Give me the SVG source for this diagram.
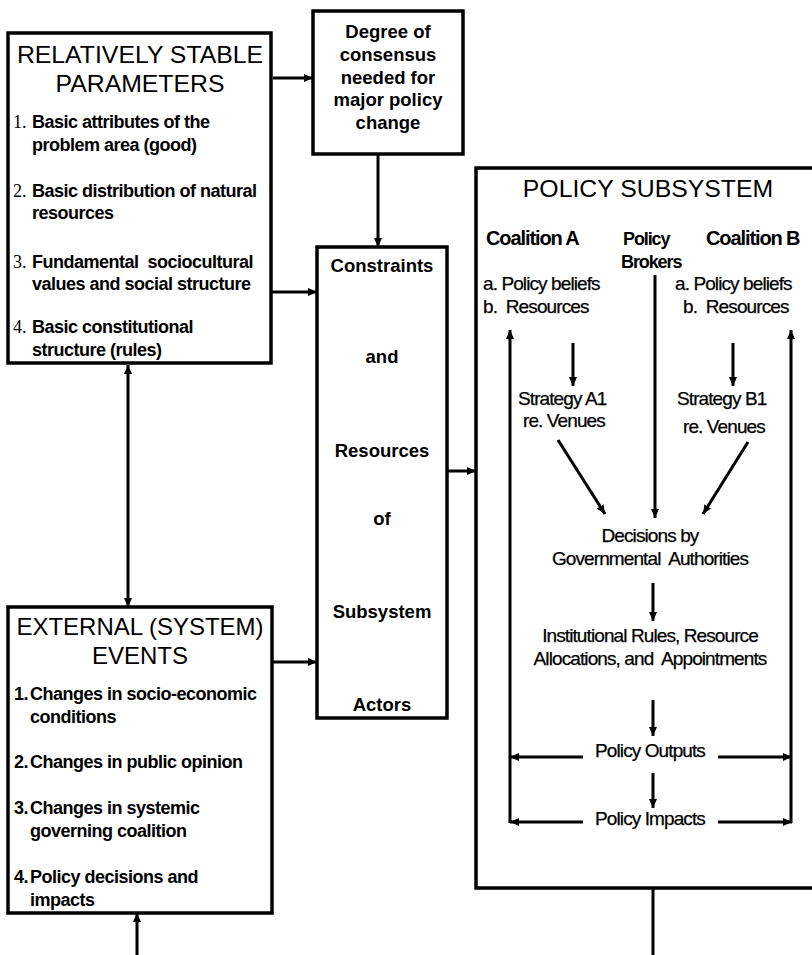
<svg xmlns="http://www.w3.org/2000/svg" width="812" height="955" viewBox="0 0 812 955" xml:space="preserve">
<defs>
<marker id="ah" markerUnits="userSpaceOnUse" markerWidth="9" markerHeight="8" refX="9" refY="4" orient="auto-start-reverse"><path d="M0,0 L9,4 L0,8 z" fill="#000"/></marker>
<style>
.box{fill:#fff;stroke:#000;stroke-width:3.5}
.t{font-family:"Liberation Sans",Arial,sans-serif;fill:#000;white-space:pre}
.title{font-size:24.8px}
.item{font-size:18px;font-weight:bold;letter-spacing:-0.5px}
.num{font-family:"Liberation Serif","Times New Roman",serif;font-size:18px;fill:#000}
.cb{font-size:18.5px;font-weight:bold;text-anchor:middle}
.sub{font-size:19px;letter-spacing:-0.9px;stroke:#000;stroke-width:0.25}
.subb{font-size:20px;font-weight:bold;letter-spacing:-1.1px}
.mid{text-anchor:middle}
.c line{stroke:#000;stroke-width:3}
.a{marker-end:url(#ah)}
</style>
</defs>
<rect width="812" height="955" fill="#fff"/>

<g id="stable-parameters">
<rect class="box" x="8" y="33" width="263" height="330"/>
<text class="t title mid" x="140" y="63">RELATIVELY STABLE</text>
<text class="t title mid" x="140" y="92">PARAMETERS</text>
<text class="num" x="13" y="128">1.</text>
<text class="t item" x="32" y="128">Basic attributes of the</text>
<text class="t item" x="32" y="151">problem area (good)</text>
<text class="num" x="13" y="197">2.</text>
<text class="t item" x="32" y="197">Basic distribution of natural</text>
<text class="t item" x="32" y="219">resources</text>
<text class="num" x="13" y="268">3.</text>
<text class="t item" x="32" y="268">Fundamental  sociocultural</text>
<text class="t item" x="32" y="290">values and social structure</text>
<text class="num" x="13" y="333">4.</text>
<text class="t item" x="32" y="333">Basic constitutional</text>
<text class="t item" x="32" y="356">structure (rules)</text>
</g>

<g id="degree-consensus">
<rect class="box" x="313" y="11" width="150" height="143"/>
<text class="t cb" x="388" y="38">Degree of</text>
<text class="t cb" x="388" y="61">consensus</text>
<text class="t cb" x="388" y="84">needed for</text>
<text class="t cb" x="388" y="106">major policy</text>
<text class="t cb" x="388" y="129">change</text>
</g>

<g id="constraints-resources">
<rect class="box" x="317" y="247" width="130" height="471"/>
<text class="t cb" x="382" y="272">Constraints</text>
<text class="t cb" x="382" y="363">and</text>
<text class="t cb" x="382" y="457">Resources</text>
<text class="t cb" x="382" y="525">of</text>
<text class="t cb" x="382" y="618">Subsystem</text>
<text class="t cb" x="382" y="711">Actors</text>
</g>

<g id="external-events">
<rect class="box" x="8" y="607" width="264" height="306"/>
<text class="t title mid" x="140" y="635" style="font-size:24px">EXTERNAL (SYSTEM)</text>
<text class="t title mid" x="140" y="664" style="font-size:24px">EVENTS</text>
<text class="t item" x="14" y="700">1.</text>
<text class="t item" x="30" y="700">Changes in socio-economic</text>
<text class="t item" x="30" y="723">conditions</text>
<text class="t item" x="14" y="768">2.</text>
<text class="t item" x="30" y="768">Changes in public opinion</text>
<text class="t item" x="14" y="814">3.</text>
<text class="t item" x="30" y="814">Changes in systemic</text>
<text class="t item" x="30" y="837">governing coalition</text>
<text class="t item" x="14" y="883">4.</text>
<text class="t item" x="30" y="883">Policy decisions and</text>
<text class="t item" x="30" y="906">impacts</text>
</g>

<g id="policy-subsystem">
<rect class="box" x="476" y="168" width="360" height="720"/>
<text class="t title mid" x="648" y="197">POLICY SUBSYSTEM</text>
<g id="coalition-a">
<text class="t subb" x="486" y="245">Coalition A</text>
<text class="t sub" x="483" y="290">a. Policy beliefs</text>
<text class="t sub" x="483" y="313">b.  Resources</text>
</g>
<g id="policy-brokers">
<text class="t subb" x="623" y="245" style="font-size:18px">Policy</text>
<text class="t subb" x="621" y="268" style="font-size:18px">Brokers</text>
</g>
<g id="coalition-b">
<text class="t subb" x="706" y="245">Coalition B</text>
<text class="t sub" x="675" y="290">a. Policy beliefs</text>
<text class="t sub" x="683" y="313">b.  Resources</text>
</g>
<g id="strategy-a1">
<text class="t sub" x="518" y="405">Strategy A1</text>
<text class="t sub" x="523" y="427">re. Venues</text>
</g>
<g id="strategy-b1">
<text class="t sub" x="677" y="405">Strategy B1</text>
<text class="t sub" x="683" y="433">re. Venues</text>
</g>
<g id="decisions">
<text class="t sub mid" x="650" y="542">Decisions by</text>
<text class="t sub mid" x="650" y="565">Governmental  Authorities</text>
</g>
<g id="institutional-rules">
<text class="t sub mid" x="650" y="642">Institutional Rules, Resource</text>
<text class="t sub mid" x="650" y="665">Allocations, and  Appointments</text>
</g>
<g id="policy-outputs">
<text class="t sub mid" x="650" y="757">Policy Outputs</text>
</g>
<g id="policy-impacts">
<text class="t sub mid" x="650" y="825">Policy Impacts</text>
</g>
</g>

<g id="connectors" class="c">
<line class="a" x1="273" y1="78" x2="313" y2="78"/>
<line class="a" x1="378" y1="154" x2="378" y2="247"/>
<line class="a" x1="271" y1="292" x2="317" y2="292"/>
<line class="a" x1="128" y1="365" x2="128" y2="607" style="marker-start:url(#ah)"/>
<line class="a" x1="272" y1="662" x2="317" y2="662"/>
<line class="a" x1="137" y1="955" x2="137" y2="913"/>
<line class="a" x1="447" y1="471" x2="476" y2="471"/>
<line x1="653" y1="888" x2="653" y2="955"/>
<line class="a" x1="655" y1="275" x2="655" y2="518"/>
<line class="a" x1="573" y1="343" x2="573" y2="386"/>
<line class="a" x1="733" y1="343" x2="733" y2="386"/>
<line class="a" x1="558" y1="440" x2="605" y2="514"/>
<line class="a" x1="748" y1="442" x2="703" y2="514"/>
<line class="a" x1="653" y1="583" x2="653" y2="621"/>
<line class="a" x1="653" y1="700" x2="653" y2="736"/>
<line class="a" x1="653" y1="773" x2="653" y2="808"/>
<line class="a" x1="583" y1="757" x2="510" y2="757"/>
<line class="a" x1="718" y1="757" x2="792" y2="757"/>
<line class="a" x1="583" y1="822" x2="510" y2="822"/>
<line class="a" x1="718" y1="822" x2="792" y2="822"/>
<line class="a" x1="510" y1="823" x2="510" y2="330"/>
<line class="a" x1="791" y1="823" x2="791" y2="330"/>
</g>
</svg>
